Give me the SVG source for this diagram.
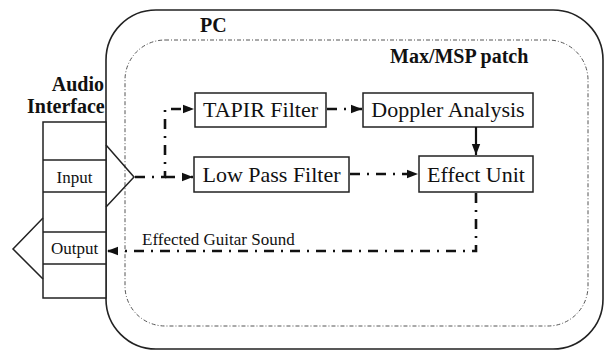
<svg xmlns="http://www.w3.org/2000/svg" width="605" height="351" viewBox="0 0 605 351">
<style>
text{font-family:"Liberation Serif","Times New Roman",serif;fill:#111}
.bold{font-weight:bold;font-size:20px}
.box{fill:#fff;stroke:#222;stroke-width:1.5}
.lbl{font-size:22px;text-anchor:middle}
.small{font-size:17px}
.dd{fill:none;stroke:#111;stroke-width:2.6;stroke-dasharray:10 7 2 7}
.solid{fill:none;stroke:#111;stroke-width:2.2}
</style>
<defs>
<marker id="arr" markerUnits="userSpaceOnUse" markerWidth="12" markerHeight="10" refX="11" refY="5" orient="auto">
<path d="M0,0.8 L11,5 L0,9.2 Z" fill="#111"/>
</marker>
</defs>
<g id="pc">
<rect x="106" y="10" width="497" height="339" rx="50" ry="50" fill="none" stroke="#222" stroke-width="1.6"/>
<text class="bold" x="200" y="32">PC</text>
</g>
<g id="maxmsp">
<rect x="125" y="40" width="463" height="286" rx="40" ry="40" fill="none" stroke="#555" stroke-width="1" stroke-dasharray="4 2 1 2"/>
<text class="bold" x="390" y="63">Max/MSP patch</text>
</g>
<g id="audio-interface">
<text class="bold" x="104" y="91" text-anchor="end">Audio</text>
<text class="bold" x="27" y="113">Interface</text>
<rect x="43" y="122" width="63" height="176" class="box" fill="none"/>
<line x1="43" y1="160" x2="106" y2="160" stroke="#222" stroke-width="1.5"/>
<line x1="43" y1="192" x2="106" y2="192" stroke="#222" stroke-width="1.5"/>
<line x1="43" y1="232" x2="106" y2="232" stroke="#222" stroke-width="1.5"/>
<line x1="43" y1="264" x2="106" y2="264" stroke="#222" stroke-width="1.5"/>
</g>
<g id="input">
<polyline points="106,145 134,177 106,207" fill="none" stroke="#222" stroke-width="1.5"/>
<text class="small" x="74.5" y="183" text-anchor="middle">Input</text>
</g>
<g id="output">
<polyline points="43,218 13,249 43,279" fill="none" stroke="#222" stroke-width="1.5"/>
<text class="small" x="74.5" y="254" text-anchor="middle">Output</text>
</g>
<g id="tapir">
<rect class="box" x="195" y="93" width="131" height="34"/>
<text class="lbl" x="260.5" y="117">TAPIR Filter</text>
</g>
<g id="doppler">
<rect class="box" x="363" y="93" width="170" height="34"/>
<text class="lbl" x="448" y="117">Doppler Analysis</text>
</g>
<g id="lpf">
<rect class="box" x="194" y="157" width="155" height="35"/>
<text class="lbl" x="271.5" y="182">Low Pass Filter</text>
</g>
<g id="effect">
<rect class="box" x="419" y="156" width="114" height="36"/>
<text class="lbl" x="476" y="182">Effect Unit</text>
</g>
<g id="connectors">
<path class="dd" d="M135,177 H165 V109 H194" marker-end="url(#arr)"/>
<path class="dd" d="M165,177 H193" marker-end="url(#arr)"/>
<path class="dd" d="M327,109 H362" marker-end="url(#arr)"/>
<path class="solid" d="M476,127 V155" marker-end="url(#arr)"/>
<path class="dd" d="M350,174 H418" marker-end="url(#arr)"/>
<path class="dd" d="M476,193 V251 H107" marker-end="url(#arr)"/>
<text class="small" x="142" y="245">Effected Guitar Sound</text>
</g>
</svg>
